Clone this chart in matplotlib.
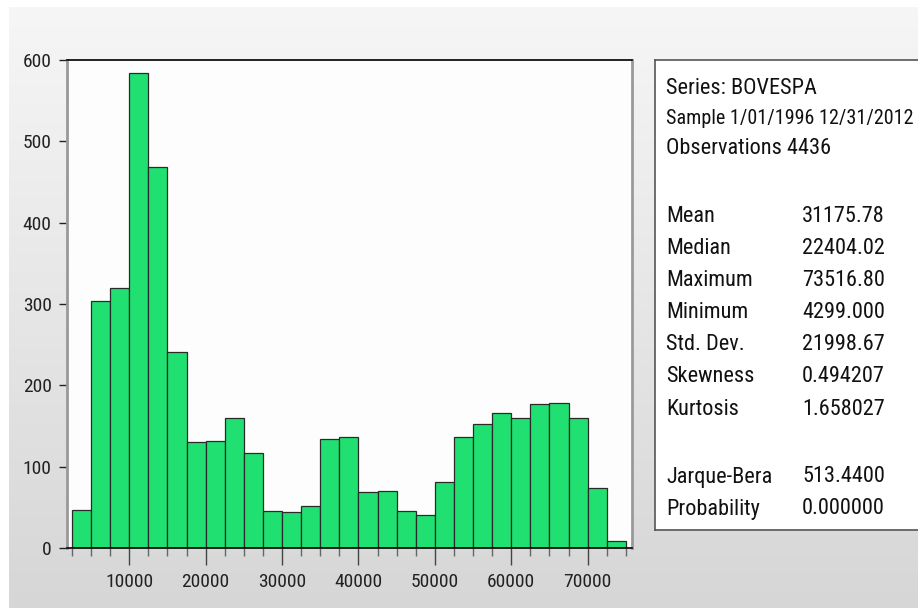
import numpy as np
import matplotlib
matplotlib.use('Agg')
import matplotlib.pyplot as plt
from matplotlib.ticker import MultipleLocator

plt.rcParams['font.family'] = ['Roboto Condensed', 'Liberation Sans', 'DejaVu Sans']

# histogram data (bin width 2500)
bin_edges = np.arange(2500, 75001, 2500)
counts = [47, 304, 320, 584, 469, 241, 130, 132, 160, 117,
          46, 44, 52, 134, 136, 69, 70, 46, 41, 81,
          137, 152, 166, 160, 177, 178, 160, 74, 9]

stat_names = ['Mean', 'Median', 'Maximum', 'Minimum', 'Std. Dev.',
              'Skewness', 'Kurtosis']
stat_values = ['31175.78', '22404.02', '73516.80', '4299.000', '21998.67',
               '0.494207', '1.658027']
test_names = ['Jarque-Bera', 'Probability']
test_values = ['513.4400', '0.000000']
header = ['Series: BOVESPA', 'Sample 1/01/1996 12/31/2012', 'Observations 4436']

W, H = 918, 608
fig = plt.figure(figsize=(W / 100, H / 100), dpi=100)
fig.patch.set_facecolor('white')

# gray gradient panel
bg = fig.add_axes([9 / W, 0, 1 - 9 / W, (H - 7) / H])
grad = np.linspace(0.965, 0.84, 256).reshape(-1, 1)
bg.imshow(np.dstack([grad, grad, grad]), aspect='auto', extent=[0, 1, 0, 1])
bg.set_axis_off()

# histogram axes: x 67..632, y 60..548 in pixels
ax = fig.add_axes([67 / W, 1 - 548 / H, (632 - 67) / W, (548 - 60) / H])
ax.set_facecolor('#fdfdfd')
ax.bar(bin_edges[:-1], counts, width=2500, align='edge', color='#20e072',
       edgecolor='#2a2a2a', linewidth=0.9, zorder=2)
ax.set_xlim(1850, 75800)
ax.set_ylim(0, 600)
ax.yaxis.set_major_locator(MultipleLocator(100))
ax.xaxis.set_major_locator(MultipleLocator(10000))
ax.set_xticks(bin_edges, minor=True)
ax.tick_params(axis='both', direction='out', labelsize=14, colors='#222222')
ax.tick_params(axis='y', length=6, width=1, pad=5)
ax.tick_params(axis='x', which='major', length=12, width=1, pad=6, color='#444444')
ax.tick_params(axis='x', which='minor', length=6, width=1, color='#666666')
for s in ['left', 'right']:
    ax.spines[s].set_color('#999999')
    ax.spines[s].set_linewidth(2)
for s in ['top', 'bottom']:
    ax.spines[s].set_color('#111111')
    ax.spines[s].set_linewidth(1.3)

# statistics box
box = fig.add_axes([655 / W, 1 - 530 / H, (W - 655 + 20) / W, (530 - 60) / H])
box.set_xlim(655, W + 20)
box.set_ylim(530, 60)
box.set_facecolor('white')
box.set_xticks([])
box.set_yticks([])
for s in box.spines.values():
    s.set_color('#555555')
    s.set_linewidth(1.2)

fs = 16
tx, vx = 666, 802
for i, t in enumerate(header):
    box.text(tx, 89 + 30 * i, t, fontsize=14.5 if i == 1 else fs,
             va='center', color='#111111')
for i, (n, v) in enumerate(zip(stat_names, stat_values)):
    y = 216 + 32.2 * i
    box.text(tx, y, n, fontsize=fs, va='center', color='#111111')
    box.text(vx, y, v, fontsize=fs, va='center', color='#111111')
for i, (n, v) in enumerate(zip(test_names, test_values)):
    y = 477 + 32 * i
    box.text(tx, y, n, fontsize=fs, va='center', color='#111111')
    box.text(vx, y, v, fontsize=fs, va='center', color='#111111')

fig.savefig('out.png', dpi=100)
